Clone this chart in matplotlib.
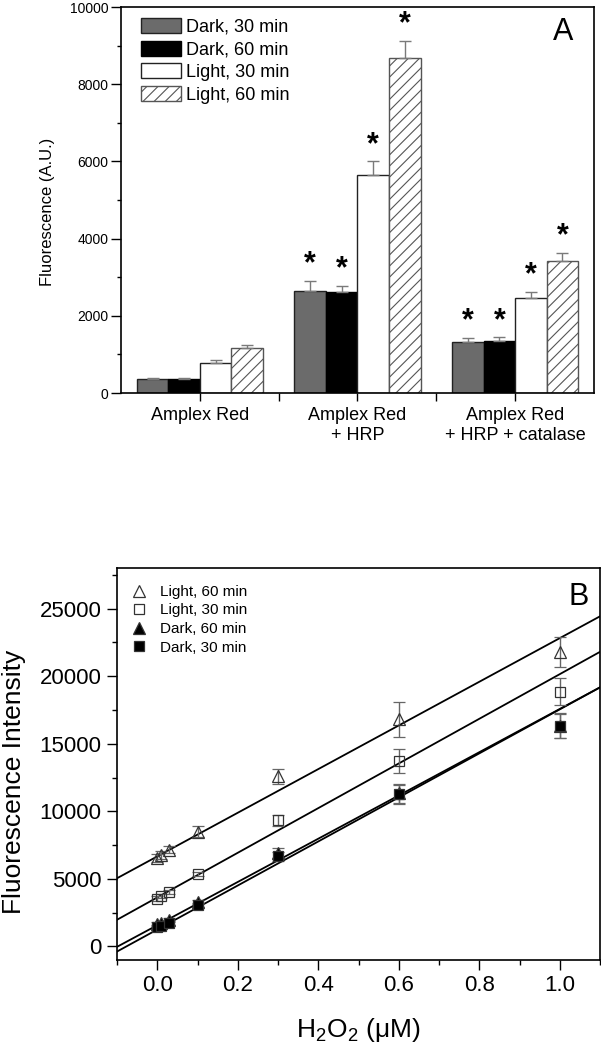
import matplotlib
matplotlib.use("Agg")
import matplotlib.pyplot as plt
import numpy as np

plt.rcParams['font.family'] = ['Liberation Sans', 'DejaVu Sans']
plt.rcParams['mathtext.fontset'] = 'custom'
plt.rcParams['mathtext.rm'] = 'Liberation Sans'
plt.rcParams['hatch.linewidth'] = 0.8

# panel A data
groups = ["Amplex Red", "Amplex Red\n+ HRP", "Amplex Red\n+ HRP + catalase"]
bar_labels = ["Dark, 30 min", "Dark, 60 min", "Light, 30 min", "Light, 60 min"]
dark30 = [370, 2650, 1310]
dark60 = [370, 2610, 1355]
light30 = [790, 5660, 2450]
light60 = [1160, 8690, 3420]
dark30_err = [20, 260, 120]
dark60_err = [20, 170, 90]
light30_err = [60, 340, 180]
light60_err = [90, 440, 210]
starred = [False, True, True]

# panel B data
h2o2 = [0.0, 0.01, 0.03, 0.1, 0.3, 0.6, 1.0]
light60_b = [6550, 6800, 7175, 8500, 12600, 16800, 21800]
light60_b_err = [300, 300, 280, 400, 550, 1300, 1100]
light30_b = [3550, 3725, 4050, 5375, 9350, 13725, 18850]
light30_b_err = [150, 150, 150, 150, 400, 900, 1000]
dark60_b = [1675, 1750, 1975, 3300, 6925, 11350, 16300]
dark60_b_err = [150, 150, 150, 150, 350, 700, 900]
dark30_b = [1425, 1500, 1750, 3050, 6675, 11250, 16350]
dark30_b_err = [150, 150, 150, 150, 350, 700, 900]
# linear fits (slope, intercept)
fit_slopes = [16150, 16520, 16000, 16290]
fit_intercepts = [6665, 3630, 1575, 1255]

fig = plt.figure(figsize=(6.01, 10.5), dpi=100)

# ---------- panel A ----------
ax1 = fig.add_axes([0.2013, 0.6257, 0.787, 0.3676])
x = np.arange(1, 4)
w = 0.2
series = [dark30, dark60, light30, light60]
errs = [dark30_err, dark60_err, light30_err, light60_err]
faces = ["#6b6b6b", "black", "white", "white"]
hatches = [None, None, None, "///"]
edges = ["#222222", "black", "#222222", "#555555"]
offsets = [-1.5, -0.5, 0.5, 1.5]
for vals, e, fc, h, ec, off, lab in zip(series, errs, faces, hatches, edges, offsets, bar_labels):
    ax1.bar(x + off * w, vals, width=w, color=fc, edgecolor=ec, hatch=h, linewidth=1,
            yerr=[np.zeros(3), e], capsize=4,
            error_kw=dict(ecolor="#7a7a7a", elinewidth=1, capthick=1), label=lab)
    for xi, v, ei, s in zip(x + off * w, vals, e, starred):
        if s:
            ax1.annotate("*", (xi, v + ei), xytext=(0, 1), textcoords="offset points",
                         ha="center", va="bottom", fontsize=22, fontweight="bold")

ax1.set_xlim(0.5, 3.5)
ax1.set_ylim(0, 10000)
ax1.set_xticks(x)
ax1.set_xticklabels(groups, fontsize=13)
ax1.set_xticks([1.5, 2.5], minor=True)
ax1.set_yticks(np.arange(0, 10001, 2000))
ax1.set_yticks(np.arange(1000, 10000, 2000), minor=True)
ax1.tick_params(axis="y", which="major", length=7, width=1, labelsize=10, pad=2)
ax1.tick_params(axis="y", which="minor", length=3, width=1)
ax1.tick_params(axis="x", which="both", length=6, width=1, pad=4)
ax1.set_ylabel("Fluorescence (A.U.)", fontsize=12)
ax1.yaxis.set_label_coords(-0.14, 0.469)
for sp in ax1.spines.values():
    sp.set_linewidth(1.2)
ax1.text(0.935, 0.935, "A", transform=ax1.transAxes, fontsize=22, ha="center", va="center")
ax1.legend(loc="upper left", bbox_to_anchor=(0.042, 0.972), frameon=False, fontsize=13,
           borderpad=0, borderaxespad=0, handlelength=2.2, handleheight=0.9,
           handletextpad=0.3, labelspacing=0.28)

# ---------- panel B ----------
ax2 = fig.add_axes([0.1947, 0.0857, 0.8037, 0.3733])
b_series = [
    (light60_b, light60_b_err, "^", "none", 8, "Light, 60 min"),
    (light30_b, light30_b_err, "s", "none", 6.5, "Light, 30 min"),
    (dark60_b, dark60_b_err, "^", "black", 8, "Dark, 60 min"),
    (dark30_b, dark30_b_err, "s", "black", 6.5, "Dark, 30 min"),
]
for (vals, e, m, fc, ms, lab), k, b in zip(b_series, fit_slopes, fit_intercepts):
    ax2.axline((0, b), slope=k, color="black", lw=1.3, zorder=2)
    ax2.errorbar(h2o2, vals, yerr=e, fmt=m, ms=ms, mfc=fc, mec="#333333", mew=0.9,
                 ecolor="#666666", elinewidth=1, capsize=4, capthick=1, label=lab, zorder=3)

ax2.set_xlim(-0.1, 1.1)
ax2.set_ylim(-1000, 28000)
ax2.set_xticks(np.arange(0, 1.01, 0.2))
ax2.set_xticks(np.arange(-0.1, 1.11, 0.2), minor=True)
ax2.set_yticks(np.arange(0, 25001, 5000))
ax2.set_yticks(np.arange(2500, 27501, 5000), minor=True)
ax2.tick_params(which="major", length=7, width=1, labelsize=16, pad=4)
ax2.tick_params(which="minor", length=3.5, width=1)
ax2.set_xlabel(r"H$_\mathregular{2}$O$_\mathregular{2}$ ($\mathregular{\mu}$M)", fontsize=19, labelpad=14)
ax2.set_ylabel("Fluorescence Intensity", fontsize=19)
ax2.yaxis.set_label_coords(-0.188, 0.455)
for sp in ax2.spines.values():
    sp.set_linewidth(1.2)
ax2.text(0.955, 0.925, "B", transform=ax2.transAxes, fontsize=22, ha="center", va="center")
handles, labels = ax2.get_legend_handles_labels()
handles = [h[0] for h in handles]
ax2.legend(handles, labels, loc="upper left", bbox_to_anchor=(0.029, 0.957), frameon=False,
           fontsize=11, borderpad=0, borderaxespad=0, handlelength=1.0,
           handletextpad=0.9, labelspacing=0.3, numpoints=1)

fig.savefig("out.png", dpi=100)
